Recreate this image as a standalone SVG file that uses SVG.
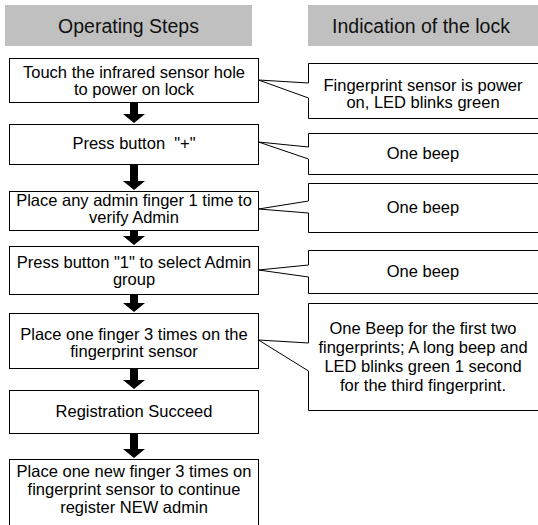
<svg xmlns="http://www.w3.org/2000/svg" width="538" height="525" viewBox="0 0 538 525">
<style>
.hdr{fill:#c0c0c0;stroke:none}
.ht{font-family:"Liberation Sans",Arial,sans-serif;font-size:19.5px;fill:#111;text-anchor:middle}
.box{fill:#fff;stroke:#000;stroke-width:1}
.t{font-family:"Liberation Sans",Arial,sans-serif;font-size:16.5px;fill:#000;text-anchor:middle;white-space:pre}
.arr{fill:#000;stroke:none}
</style>
<rect width="538" height="525" fill="#fff"/>
<g id="header-steps"><rect class="hdr" x="5" y="5" width="247" height="41"/><text class="ht" x="128.5" y="33">Operating Steps</text></g>
<g id="header-indication"><rect class="hdr" x="308" y="5" width="235" height="41"/><text class="ht" x="421" y="33">Indication of the lock</text></g>

<g id="step1"><rect class="box" x="9.5" y="58.5" width="249" height="44"/><text class="t" x="134" y="78">Touch the infrared sensor hole</text><text class="t" x="134" y="95">to power on lock</text></g>
<g id="step2"><rect class="box" x="9.5" y="124.5" width="249" height="40"/><text class="t" x="134" y="149">Press button  "+"</text></g>
<g id="step3"><rect class="box" x="9.5" y="191.5" width="249" height="39"/><text class="t" x="134" y="206">Place any admin finger 1 time to</text><text class="t" x="134" y="223">verify Admin</text></g>
<g id="step4"><rect class="box" x="9.5" y="246.5" width="249" height="48"/><text class="t" x="134" y="268">Press button "1" to select Admin</text><text class="t" x="134" y="285">group</text></g>
<g id="step5"><rect class="box" x="9.5" y="313.5" width="249" height="55"/><text class="t" x="134" y="340">Place one finger 3 times on the</text><text class="t" x="134" y="357">fingerprint sensor</text></g>
<g id="step6"><rect class="box" x="9.5" y="390.5" width="249" height="43"/><text class="t" x="134" y="417">Registration Succeed</text></g>
<g id="step7"><rect class="box" x="9.5" y="459.5" width="249" height="80"/><text class="t" x="134" y="477">Place one new finger 3 times on</text><text class="t" x="134" y="495">fingerprint sensor to continue</text><text class="t" x="134" y="513">register NEW admin</text></g>

<g id="ind1"><path class="box" d="M308.5 63.5H545V118.5H308.5V98L258.5 80L308.5 83Z"/><text class="t" x="423" y="91">Fingerprint sensor is power</text><text class="t" x="423" y="108">on, LED blinks green</text></g>
<g id="ind2"><path class="box" d="M308.5 133.5H545V174.5H308.5V159L258.5 142L308.5 147Z"/><text class="t" x="423" y="159">One beep</text></g>
<g id="ind3"><path class="box" d="M308.5 183.5H545V232.5H308.5V213L258.5 209L308.5 201Z"/><text class="t" x="423" y="213">One beep</text></g>
<g id="ind4"><path class="box" d="M308.5 250.5H545V293.5H308.5V277L258.5 270L308.5 265Z"/><text class="t" x="423" y="277">One beep</text></g>
<g id="ind5"><path class="box" d="M308.5 303.5H545V410.5H308.5V371L258.5 340L308.5 343Z"/><text class="t" x="423" y="334">One Beep for the first two</text><text class="t" x="423" y="353">fingerprints; A long beep and</text><text class="t" x="423" y="372">LED blinks green 1 second</text><text class="t" x="423" y="391">for the third fingerprint.</text></g>

<g id="connectors">
<polygon class="arr" points="130,103 138,103 138,114 145,114 134,123 123,114 130,114"/>
<polygon class="arr" points="130,165 138,165 138,181 145,181 134,190 123,181 130,181"/>
<polygon class="arr" points="130,231 138,231 138,236 145,236 134,245 123,236 130,236"/>
<polygon class="arr" points="130,295 138,295 138,303 145,303 134,312 123,303 130,303"/>
<polygon class="arr" points="130,369 138,369 138,380 145,380 134,389 123,380 130,380"/>
<polygon class="arr" points="130,434 138,434 138,449 145,449 134,458 123,449 130,449"/>
</g>
</svg>
